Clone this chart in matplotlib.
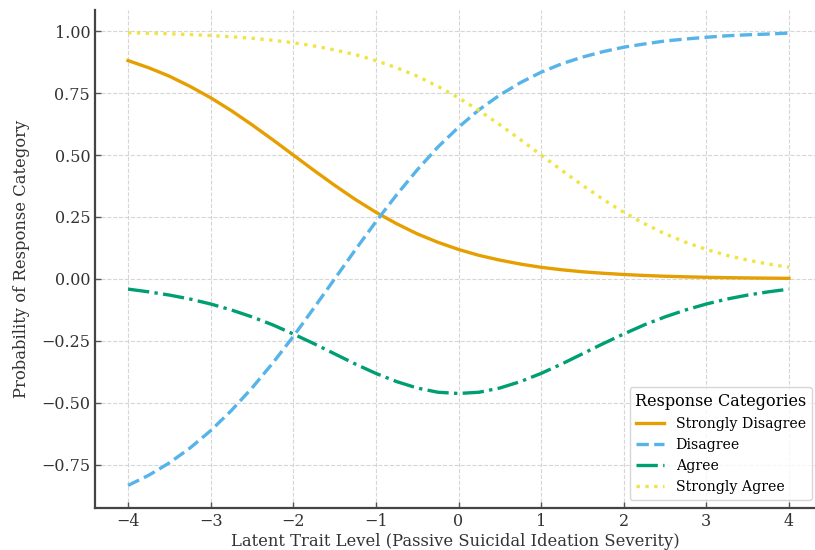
import numpy as np
import matplotlib.pyplot as plt

# latent trait grid and category probabilities
theta = [-4.0, -3.75, -3.5, -3.25, -3.0, -2.75, -2.5, -2.25, -2.0, -1.75, -1.5,
         -1.25, -1.0, -0.75, -0.5, -0.25, 0.0, 0.25, 0.5, 0.75, 1.0, 1.25, 1.5,
         1.75, 2.0, 2.25, 2.5, 2.75, 3.0, 3.25, 3.5, 3.75, 4.0]

strongly_disagree = [0.881, 0.852, 0.818, 0.777, 0.731, 0.679, 0.622, 0.562, 0.500,
                     0.438, 0.378, 0.321, 0.269, 0.223, 0.182, 0.148, 0.119, 0.095,
                     0.076, 0.060, 0.047, 0.037, 0.029, 0.023, 0.018, 0.014, 0.011,
                     0.0086, 0.0067, 0.0052, 0.0041, 0.0032, 0.0025]

disagree = [-0.833, -0.792, -0.742, -0.682, -0.612, -0.531, -0.440, -0.340, -0.232,
            -0.117, 0.000, 0.117, 0.231, 0.339, 0.440, 0.532, 0.612, 0.683, 0.742,
            0.792, 0.834, 0.868, 0.895, 0.917, 0.935, 0.948, 0.960, 0.968, 0.975,
            0.981, 0.985, 0.988, 0.992]

agree = [-0.041, -0.052, -0.065, -0.081, -0.101, -0.125, -0.153, -0.185, -0.222,
         -0.261, -0.302, -0.343, -0.381, -0.414, -0.440, -0.457, -0.462, -0.457,
         -0.440, -0.414, -0.381, -0.343, -0.302, -0.261, -0.222, -0.185, -0.153,
         -0.125, -0.101, -0.081, -0.065, -0.052, -0.041]

strongly_agree = [0.993, 0.991, 0.989, 0.986, 0.982, 0.977, 0.971, 0.963, 0.953,
                  0.940, 0.924, 0.905, 0.881, 0.852, 0.818, 0.777, 0.731, 0.679,
                  0.622, 0.562, 0.500, 0.438, 0.378, 0.321, 0.269, 0.223, 0.182,
                  0.148, 0.119, 0.095, 0.076, 0.060, 0.047]

labels = ['Strongly Disagree', 'Disagree', 'Agree', 'Strongly Agree']
colors = ['#E69F00', '#56B4E9', '#009E73', '#F0E442']
styles = ['-', '--', '-.', ':']

xticks = list(range(-4, 5))
yticks = [-0.75, -0.5, -0.25, 0.0, 0.25, 0.5, 0.75, 1.0]

plt.rcParams['font.family'] = 'DejaVu Serif'

fig = plt.figure(figsize=(8.15, 5.5), dpi=100)
ax = fig.add_axes([95 / 815, 42 / 550, 1 - 95 / 815, 498 / 550])

for y, lab, c, ls in zip([strongly_disagree, disagree, agree, strongly_agree],
                         labels, colors, styles):
    ax.plot(theta, y, color=c, linestyle=ls, linewidth=2.4, label=lab)

ax.set_xlim(-4.4, 4.315)
ax.set_ylim(-0.924, 1.085)
ax.set_xticks(xticks)
ax.set_yticks(yticks)
ax.set_xticklabels([f'{v}' if v >= 0 else f'\u2212{-v}' for v in xticks])
ax.set_yticklabels([f'{v:.2f}' if v >= 0 else f'\u2212{-v:.2f}' for v in yticks])

ax.grid(True, linestyle='--', color='#cccccc', linewidth=0.8, alpha=0.8)
for side in ['top', 'right']:
    ax.spines[side].set_visible(False)
for side in ['left', 'bottom']:
    ax.spines[side].set_color('#444444')
    ax.spines[side].set_linewidth(1.6)
ax.tick_params(labelcolor='#333333', color='#555555', labelsize=11.5,
               length=4, width=1, direction='in')

ax.set_xlabel('Latent Trait Level (Passive Suicidal Ideation Severity)',
              fontsize=11.8, color='#333333', labelpad=2)
ax.set_ylabel('Probability of Response Category', fontsize=11.8, color='#333333',
              labelpad=8)

leg = ax.legend(title='Response Categories', loc='lower right', fontsize=10.2,
                title_fontsize=11.5, frameon=True, borderaxespad=0,
                bbox_to_anchor=(0.996, 0.016))
leg.get_frame().set_edgecolor('#cccccc')

fig.savefig('out.png', dpi=100)
